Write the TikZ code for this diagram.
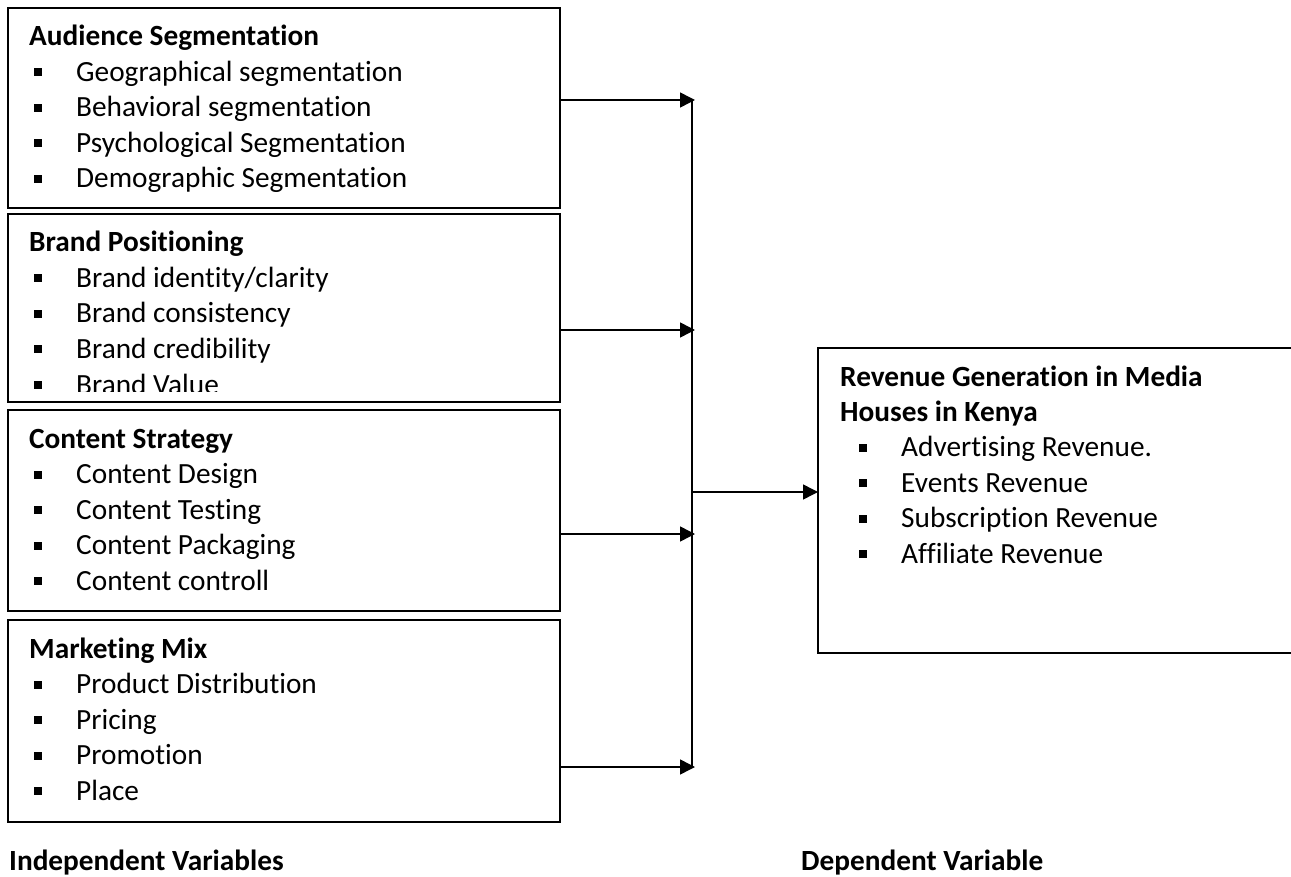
\documentclass[tikz,border=0pt]{standalone}
\usepackage{fontspec}
\setmainfont{Carlito}[Ligatures=NoCommon]
\usetikzlibrary{arrows.meta}
\newcommand{\sqbul}{\makebox[42pt][l]{\rule[5pt]{8pt}{8pt}}}
\begin{document}
\begin{tikzpicture}[x=1pt,y=-1pt,
  boxstyle/.style={draw, line width=1.8pt, inner sep=0pt, outer sep=0pt, anchor=north west},
  ttl/.style={anchor=base west, inner sep=0pt, font=\fontsize{29.3}{35}\selectfont\bfseries},
  itm/.style={anchor=base west, inner sep=0pt, font=\fontsize{29.3}{35}\selectfont},
  arr/.style={line width=1.5pt, -{Triangle[length=15pt,width=15pt]}},
  vline/.style={line width=1.2pt}]
\clip (0,0) rectangle (1291,877);
% boxes
\node[boxstyle, minimum width=552pt, minimum height=200pt] (b1) at (8,8) {};
\node[boxstyle, minimum width=552pt, minimum height=188pt] (b2) at (8,214) {};
\node[boxstyle, minimum width=552pt, minimum height=201pt] (b3) at (8,410) {};
\node[boxstyle, minimum width=552pt, minimum height=202pt] (b4) at (8,620) {};
\node[boxstyle, minimum width=490pt, minimum height=305pt] (rb) at (818,348) {};
% box 1
\node[ttl] (t1) at (29,46) {Audience Segmentation};
\node[itm] (i11) at (34,81.5) {\sqbul Geographical segmentation};
\node[itm] (i12) at (34,117) {\sqbul Behavioral segmentation};
\node[itm] (i13) at (34,152.5) {\sqbul Psychological Segmentation};
\node[itm] (i14) at (34,188) {\sqbul Demographic Segmentation};
% box 2
\begin{scope}
\clip (9,215) rectangle (559,391);
\node[ttl] (t2) at (29,252) {Brand Positioning};
\node[itm] (i21) at (34,287.5) {\sqbul Brand identity/clarity};
\node[itm] (i22) at (34,323) {\sqbul Brand consistency};
\node[itm] (i23) at (34,358.5) {\sqbul Brand credibility};
\node[itm] (i24) at (34,394) {\sqbul Brand Value};
\end{scope}
% box 3
\node[ttl] (t3) at (29,448) {Content Strategy};
\node[itm] (i31) at (34,483.5) {\sqbul Content Design};
\node[itm] (i32) at (34,519) {\sqbul Content Testing};
\node[itm] (i33) at (34,554.5) {\sqbul Content Packaging};
\node[itm] (i34) at (34,590) {\sqbul Content controll};
% box 4
\node[ttl] (t4) at (29,658) {Marketing Mix};
\node[itm] (i41) at (34,693.5) {\sqbul Product Distribution};
\node[itm] (i42) at (34,729) {\sqbul Pricing};
\node[itm] (i43) at (34,764.5) {\sqbul Promotion};
\node[itm] (i44) at (34,800) {\sqbul Place};
% right box
\node[ttl] (tr1) at (840,386) {Revenue Generation in Media};
\node[ttl] (tr2) at (840,421) {Houses in Kenya};
\node[itm] (ir1) at (859,456.5) {\sqbul Advertising Revenue.};
\node[itm] (ir2) at (859,492) {\sqbul Events Revenue};
\node[itm] (ir3) at (859,527.5) {\sqbul Subscription Revenue};
\node[itm] (ir4) at (859,563) {\sqbul Affiliate Revenue};
% bottom labels
\node[ttl] (lind) at (9,870) {Independent Variables};
\node[ttl] (ldep) at (801,870) {Dependent Variable};
% connectors
\coordinate (j1) at (695,100);
\coordinate (j2) at (695,330);
\coordinate (j3) at (695,534);
\coordinate (j4) at (695,767);
\coordinate (v1) at (692,100);
\coordinate (v4) at (692,767);
\coordinate (vm) at (692,492);
\draw[vline] (v1) -- (v4);
\draw[arr] (b1.east |- j1) -- (j1);
\draw[arr] (b2.east |- j2) -- (j2);
\draw[arr] (b3.east |- j3) -- (j3);
\draw[arr] (b4.east |- j4) -- (j4);
\draw[arr] (vm) -- (rb.west |- vm);
\end{tikzpicture}
\end{document}
